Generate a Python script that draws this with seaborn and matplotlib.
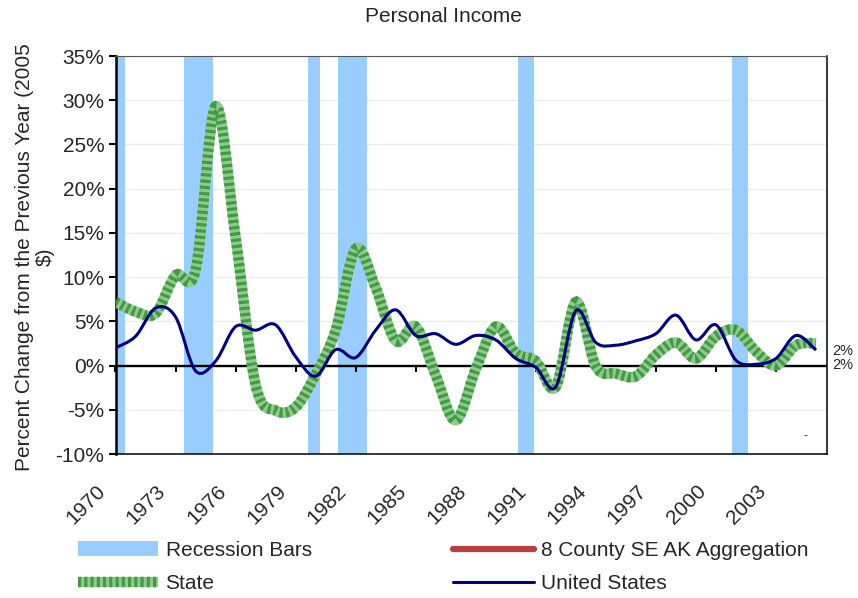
import numpy as np
import seaborn as sns
import matplotlib
matplotlib.use("Agg")
import matplotlib.pyplot as plt
import matplotlib.transforms as mtransforms
from matplotlib.path import Path
from matplotlib.patches import PathPatch, Patch
from matplotlib.lines import Line2D

# data (percent change from previous year)
years = list(range(1970, 2006))
us_pct = [2.0, 3.3, 6.5, 5.5, -0.6, 0.5, 4.4, 4.0, 4.6, 1.0,
          -1.2, 1.8, 0.9, 4.0, 6.3, 3.4, 3.6, 2.4, 3.4, 2.9,
          0.8, -0.2, -2.4, 6.2, 2.6, 2.3, 2.8, 3.6, 5.7, 2.9,
          4.6, 0.6, 0.15, 0.8, 3.4, 1.75]
state_pct = [7.2, 6.1, 5.9, 10.2, 10.8, 29.3, 14.5, -2.2, -5.1, -4.7,
             -1.0, 4.0, 13.2, 8.8, 2.8, 4.4, -1.1, -6.2, -0.4, 4.4,
             1.4, 0.5, -2.4, 7.2, -0.1, -0.9, -1.2, 1.2, 2.6, 0.8,
             3.3, 4.0, 1.6, 0.0, 2.3, 2.5]
recession_start = [1970.0, 1973.4, 1979.6, 1981.1, 1990.1, 2000.8]
recession_end = [1970.45, 1974.85, 1980.2, 1982.55, 1990.9, 2001.6]
tick_years = list(range(1970, 2004, 3))
y_ticks = list(range(-10, 36, 5))

BLUE_BAR = "#99ccff"
NAVY = "#000080"
DARK_GREEN = "#0a800a"
LIGHT_GREEN = "#8fc98f"
RED = "#b83d44"


def smooth_path(x, y):
    # smoothed line like the spreadsheet one: bezier segments through every point
    x = np.asarray(x, float)
    y = np.asarray(y, float)
    xp = np.r_[x[0], x, x[-1]]
    yp = np.r_[y[0], y, y[-1]]
    verts = [(x[0], y[0])]
    codes = [Path.MOVETO]
    for i in range(len(x) - 1):
        p0 = np.array([xp[i], yp[i]])
        p1 = np.array([xp[i + 1], yp[i + 1]])
        p2 = np.array([xp[i + 2], yp[i + 2]])
        p3 = np.array([xp[i + 3], yp[i + 3]])
        verts += [tuple(p1 + (p2 - p0) / 6), tuple(p2 - (p3 - p1) / 6), tuple(p2)]
        codes += [Path.CURVE4] * 3
    return Path(verts, codes)


sns.set_theme(style="white")
plt.rcParams['font.family'] = ['Liberation Sans', 'DejaVu Sans']
FS = 15

fig = plt.figure(figsize=(8.58, 5.98), dpi=100)
ax = fig.add_axes([115.5 / 858, 1 - 454 / 598, (827 - 115.5) / 858, (454 - 56) / 598])

ax.set_xlim(1970, 2005.55)
ax.set_ylim(-10, 35)

# gridlines
for v in y_ticks:
    ax.axhline(v, color="#ebebeb", lw=1, zorder=0.5)

# recession bars
for s, e in zip(recession_start, recession_end):
    ax.axvspan(s, e, color=BLUE_BAR, lw=0, zorder=1)

# state line (checkered look)
state_path = smooth_path(years, state_pct)
ax.add_patch(PathPatch(state_path, fill=False, edgecolor=LIGHT_GREEN, lw=7.5,
                       capstyle="butt", zorder=3))
ax.add_patch(PathPatch(state_path, fill=False, edgecolor=DARK_GREEN, lw=7.5,
                       linestyle=(0, (0.3, 0.3)), capstyle="butt", alpha=0.6, zorder=3.1))

# united states line
ax.add_patch(PathPatch(smooth_path(years, us_pct), fill=False, edgecolor=NAVY,
                       lw=2.2, zorder=4))

# zero axis with tick marks
ax.axhline(0, color="black", lw=1.7, zorder=2.5)
sec = ax.secondary_xaxis(10 / 45)
sec.set_xticks(tick_years)
sec.set_xticklabels([])
sec.tick_params(axis="x", direction="out", length=4, width=1.5, color="black")
sec.spines["bottom"].set_visible(False)
sec.set_zorder(2.6)

# spines
for side in ["top", "right", "bottom", "left"]:
    ax.spines[side].set_visible(True)
    ax.spines[side].set_color("black")
    ax.spines[side].set_linewidth(1.1)
ax.spines["top"].set_color("#555555")
ax.spines["top"].set_linewidth(0.8)
ax.spines["left"].set_linewidth(1.8)

ax.set_yticks(y_ticks)
ax.set_yticklabels([f"{v}%" for v in y_ticks], fontsize=FS)
ax.tick_params(axis="y", direction="out", length=5, width=1.5, color="black", pad=3, left=True)

ax.set_xticks(tick_years)
ax.set_xticklabels([str(y) for y in tick_years], fontsize=FS, rotation=45, ha="right")
ax.tick_params(axis="x", length=0, pad=20)
offset = mtransforms.ScaledTranslation(-6 / 100, 0, fig.dpi_scale_trans)
for lab in ax.get_xticklabels():
    lab.set_transform(lab.get_transform() + offset)

ax.grid(False)

# end labels at the right edge and the stray data label
ax.text(1.007, 0.2600, f"{round(us_pct[-1])}%", transform=ax.transAxes, fontsize=10.5,
        va="center", ha="left", clip_on=False)
ax.text(1.007, 0.2230, f"{round(state_pct[-1])}%", transform=ax.transAxes, fontsize=10.5,
        va="center", ha="left", clip_on=False)
ax.text(2004.5, -8.0, "-", fontsize=9, va="center", ha="center")

# title and y label
fig.text(443.5 / 858, 1 - 17 / 598, "Personal Income", fontsize=FS, ha="center", va="center")
fig.text(24.5 / 858, 1 - 257 / 598, "Percent Change from the Previous Year (2005",
         fontsize=FS, rotation=90, ha="center", va="center")
fig.text(45 / 858, 1 - 257 / 598, "$)", fontsize=FS, rotation=90, ha="center", va="center")

# legend
handles = [
    Patch(facecolor=BLUE_BAR, edgecolor="none"),
    (Line2D([], [], color=LIGHT_GREEN, lw=7.5, solid_capstyle="butt"),
     Line2D([], [], color=DARK_GREEN, lw=7.5, linestyle=(0, (0.3, 0.3)), alpha=0.6)),
    Line2D([], [], color=RED, lw=4.5, solid_capstyle="round"),
    Line2D([], [], color=NAVY, lw=2.2),
]
labels = ["Recession Bars", "State", "8 County SE AK Aggregation", "United States"]
fig.legend(handles, labels, ncol=2, loc="upper left", bbox_to_anchor=(78 / 858, 1 - 541 / 598),
           frameon=False, fontsize=FS, handlelength=3.85, handletextpad=0.35,
           columnspacing=6.8, labelspacing=0.68, borderpad=0, borderaxespad=0)

fig.savefig("out.png", dpi=100)
